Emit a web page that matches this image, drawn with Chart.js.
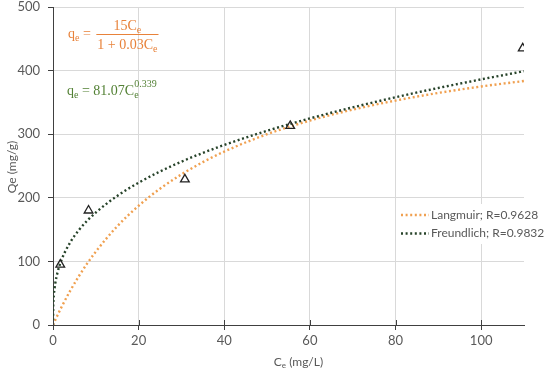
<!DOCTYPE html>
<html>
<head>
<meta charset="utf-8">
<script src="https://cdn.jsdelivr.net/npm/chart.js@4.4.1/dist/chart.umd.min.js"></script>
<style>
html,body{margin:0;padding:0;background:#fff;}
#wrap{width:550px;height:373px;position:relative;}
</style>
</head>
<body>
<div id="wrap"><canvas id="c" width="550" height="373"></canvas></div>
<script>
// Experimental points
const ceData = [1.7, 8.3, 30.8, 55.4, 109.7];
const qeData = [95, 180, 229, 313, 435];

// Langmuir trendline
const langX = [0, 1, 2, 4, 6, 8, 10, 15, 20, 25, 30, 35, 40, 50, 60, 70, 80, 90, 100, 110];
const langY = [0, 14.6, 28.3, 53.6, 76.3, 96.8, 115.4, 155.2, 187.5, 214.3, 236.8, 256.1, 272.7, 300, 321.4, 338.7, 352.9, 364.9, 375, 383.7];

// Freundlich trendline
const freuX = [0, 0.05, 0.2, 0.5, 1, 2, 4, 6, 8, 10, 15, 20, 25, 30, 35, 40, 50, 60, 70, 80, 90, 100, 110];
const freuY = [0, 29.4, 47.0, 64.1, 81.1, 102.6, 129.7, 148.8, 164.1, 176.9, 203.0, 223.8, 241.4, 256.8, 270.6, 283.1, 305.4, 324.8, 342.2, 358.1, 372.7, 386.2, 399.0];

const xTicks = [0, 20, 40, 60, 80, 100];
const yTicks = [0, 100, 200, 300, 400, 500];
const legendLabels = ['Langmuir; R=0.9628', 'Freundlich; R=0.9832'];

const pts = (xs, ys) => xs.map((x, i) => ({x: x, y: ys[i]}));

const ORANGE = '#F0A050';
const GREEN = '#27432A';
const GRAY = '#595959';
const FONT = 'Lato, "Open Sans", sans-serif';

const decor = {
  id: 'decor',
  afterDraw(chart) {
    const ctx = chart.ctx;
    const xs = chart.scales.x, ys = chart.scales.y;
    const y0 = ys.getPixelForValue(0);
    ctx.save();
    // inner halves of x tick marks (cross style)
    ctx.strokeStyle = '#404040';
    ctx.lineWidth = 1;
    xTicks.forEach(v => {
      const px = Math.round(xs.getPixelForValue(v)) + 0.5;
      ctx.beginPath(); ctx.moveTo(px, y0 - 5); ctx.lineTo(px, y0); ctx.stroke();
    });

    // axis titles
    ctx.fillStyle = GRAY;
    ctx.textBaseline = 'middle';
    const t1 = 'C', t2 = 'e', t3 = ' (mg/L)';
    ctx.font = '12px ' + FONT;
    const w1 = ctx.measureText(t1).width, w3 = ctx.measureText(t3).width;
    ctx.font = '8px ' + FONT;
    const w2 = ctx.measureText(t2).width;
    const tw = w1 + w2 + w3;
    const cx = (xs.left + xs.right) / 2 + 10;
    let sx = cx - tw / 2;
    const ty = 362;
    ctx.textAlign = 'left';
    ctx.font = '12px ' + FONT; ctx.fillText(t1, sx, ty); sx += w1;
    ctx.font = '8px ' + FONT; ctx.fillText(t2, sx, ty + 3); sx += w2;
    ctx.font = '12px ' + FONT; ctx.fillText(t3, sx, ty);
    // y title
    ctx.save();
    ctx.translate(12, 167);
    ctx.rotate(-Math.PI / 2);
    ctx.textAlign = 'center';
    ctx.font = '12px ' + FONT;
    ctx.fillText('Qe (mg/g)', 0, 0);
    ctx.restore();

    // equations
    const SERIF = '"Liberation Serif", "DejaVu Serif", serif';
    ctx.textAlign = 'left';
    ctx.textBaseline = 'alphabetic';
    function sub(base, s, x, y, color, size) {
      ctx.fillStyle = color;
      ctx.font = size + 'px ' + SERIF;
      ctx.fillText(base, x, y);
      let w = ctx.measureText(base).width;
      ctx.font = Math.round(size * 0.7) + 'px ' + SERIF;
      ctx.fillText(s, x + w, y + 3);
      return w + ctx.measureText(s).width;
    }
    function txt(s, x, y, color, size) {
      ctx.fillStyle = color; ctx.font = size + 'px ' + SERIF;
      ctx.fillText(s, x, y);
      return ctx.measureText(s).width;
    }
    const EO = '#E8823A';
    // Langmuir equation
    let ex = 68, eb = 38;
    ex += sub('q', 'e', ex, eb, EO, 14);
    ex += txt(' = ', ex, eb, EO, 14);
    const fracL = ex + 2;
    let dx = fracL + 1;
    dx += txt('1 + 0.03C', dx, 49, EO, 14);
    dx += txt('e', dx, 52, EO, 10);
    const fracR = dx + 1;
    ctx.strokeStyle = EO; ctx.lineWidth = 1;
    ctx.beginPath(); ctx.moveTo(fracL, 34.5); ctx.lineTo(fracR, 34.5); ctx.stroke();
    ctx.font = '14px ' + SERIF;
    const nw1 = ctx.measureText('15C').width;
    ctx.font = '10px ' + SERIF;
    const nw2 = ctx.measureText('e').width;
    let nx = (fracL + fracR) / 2 - (nw1 + nw2) / 2;
    nx += txt('15C', nx, 30, EO, 14);
    txt('e', nx, 33, EO, 10);

    // Freundlich equation
    const EG = '#538135';
    ex = 67; eb = 95;
    ex += sub('q', 'e', ex, eb, EG, 14);
    ex += txt(' = 81.07C', ex, eb, EG, 14);
    txt('e', ex, eb + 3, EG, 10);
    txt('0.339', ex, eb - 8, EG, 10);

    // legend
    ctx.fillStyle = '#ffffff';
    ctx.fillRect(396, 204, 150, 40);
    const ds = chart.data.datasets;
    [0, 1].forEach(i => {
      const d = ds[i];
      const ly = 215 + i * 18.5;
      ctx.strokeStyle = d.borderColor;
      ctx.lineWidth = d.borderWidth;
      ctx.setLineDash(d.borderDash);
      ctx.beginPath(); ctx.moveTo(401, ly); ctx.lineTo(429, ly); ctx.stroke();
      ctx.setLineDash([]);
      ctx.fillStyle = GRAY;
      ctx.font = '12px ' + FONT;
      ctx.textBaseline = 'middle';
      ctx.fillText(legendLabels[i], 431, ly);
    });
    ctx.restore();
  }
};

new Chart(document.getElementById('c'), {
  type: 'scatter',
  data: {
    datasets: [
      {
        type: 'line', label: legendLabels[0], data: pts(langX, langY),
        borderColor: ORANGE, borderWidth: 2.4, borderDash: [2, 2.6],
        pointRadius: 0, fill: false, cubicInterpolationMode: 'monotone', order: 2
      },
      {
        type: 'line', label: legendLabels[1], data: pts(freuX, freuY),
        borderColor: GREEN, borderWidth: 2.4, borderDash: [2, 2.6],
        pointRadius: 0, fill: false, cubicInterpolationMode: 'monotone', order: 1
      },
      {
        label: 'Data', data: pts(ceData, qeData),
        pointStyle: 'triangle', pointRadius: 5, borderColor: '#222222',
        backgroundColor: 'rgba(255,255,255,0)', pointBorderWidth: 1.3, order: 0
      }
    ]
  },
  options: {
    responsive: false,
    animation: false,
    devicePixelRatio: 1,
    layout: { padding: { left: 0, right: 26, top: 7, bottom: 0 } },
    plugins: { legend: { display: false }, tooltip: { enabled: false } },
    scales: {
      x: {
        type: 'linear', min: 0, max: 110,
        afterFit(s) { s.height = 48; s.paddingLeft = 0; s.paddingRight = 0; },
        afterBuildTicks(s) { s.ticks = xTicks.map(v => ({value: v})); },
        ticks: { color: GRAY, font: { family: FONT, size: 13 }, padding: 3, includeBounds: false },
        grid: { color: '#D9D9D9', tickLength: 5, tickColor: '#404040', lineWidth: 1 },
        border: { color: '#404040', width: 1 }
      },
      y: {
        type: 'linear', min: 0, max: 500,
        afterFit(s) { s.width = 53; s.paddingTop = 0; s.paddingBottom = 0; },
        afterBuildTicks(s) { s.ticks = yTicks.map(v => ({value: v})); },
        ticks: { color: GRAY, font: { family: FONT, size: 13 }, padding: 8 },
        grid: { color: '#D9D9D9', tickLength: 5, tickColor: '#404040', lineWidth: 1 },
        border: { color: '#404040', width: 1 }
      }
    }
  },
  plugins: [decor]
});
</script>
</body>
</html>
